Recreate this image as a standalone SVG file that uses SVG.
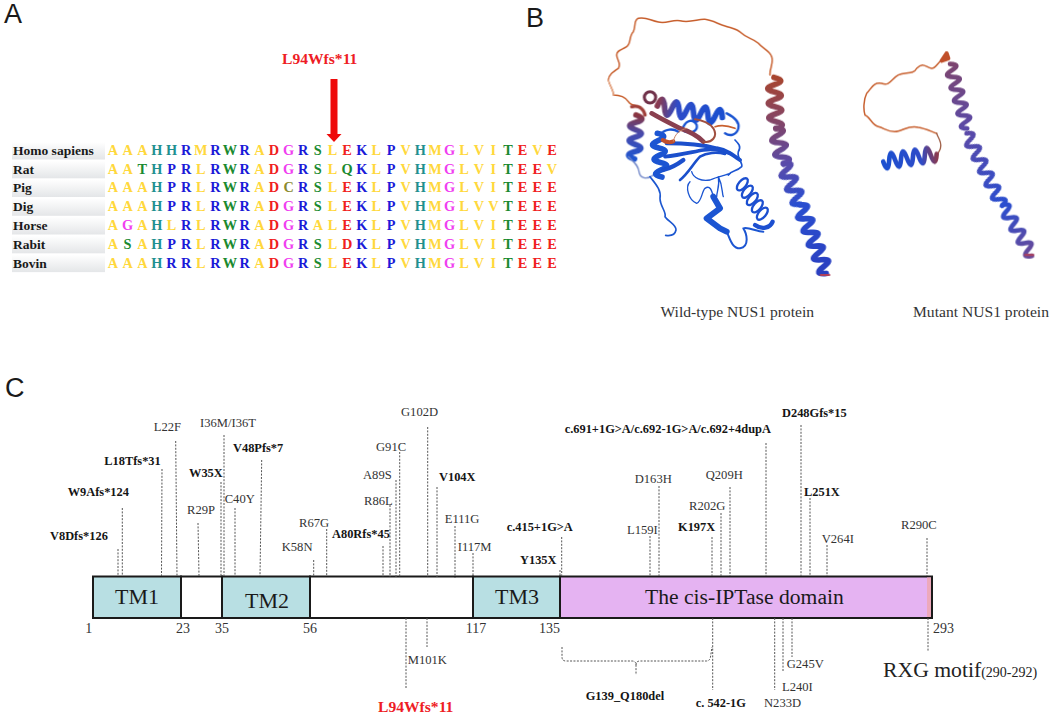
<svg xmlns="http://www.w3.org/2000/svg" width="1052" height="718" viewBox="0 0 1052 718">
<style>
text{font-family:"Liberation Serif","Times New Roman",serif}
.panel{font-family:"Liberation Sans",Arial,sans-serif;font-size:27px;fill:#1a1a1a}
.aa{font-size:14.3px;font-weight:bold;text-anchor:middle}
.y{fill:#ffd83c}.t{fill:#1f9090}.b{fill:#1a1ad8}.g{fill:#1a8a30}.r{fill:#f02020}.m{fill:#f040f0}.o{fill:#8a8a30}
.sp{font-size:13.5px;font-weight:bold;fill:#1a1a1a}
.lab{font-size:12.6px;fill:#333}
.mut{font-size:12.4px;font-weight:bold;fill:#151515}
.red{font-size:15.6px;font-weight:bold;fill:#ee1c25}
.num{font-size:14px;fill:#333}
.dom{font-size:22px;fill:#1a1a1a}
.dom2{font-size:21.6px;fill:#1a1a1a}
.cap{font-size:15.6px;fill:#333}
.rxg{font-size:21.7px;fill:#222}
.rxg2{font-size:14px}
.dash{fill:none;stroke:#555;stroke-width:1;stroke-dasharray:2 1.4}
.box{stroke:#1a1a1a;stroke-width:2}
.rib{fill:none;stroke-linecap:round;stroke-linejoin:round}
.loop{stroke:#c8602f;stroke-width:4.5}
.bl{stroke:#1b55d2;stroke-width:7}
.hx{stroke-width:17}
.hm{stroke-width:14}
</style>
<defs>
<filter id="soft" x="-5%" y="-5%" width="110%" height="110%"><feGaussianBlur stdDeviation="1.2"/></filter>
<linearGradient id="rowbg" x1="0" y1="0" x2="0" y2="1"><stop offset="0" stop-color="#ffffff"/><stop offset="1" stop-color="#e4e6e8"/></linearGradient>
<linearGradient id="gA" x1="0" y1="0" x2="1" y2="0"><stop offset="0" stop-color="#a8442f"/><stop offset="1" stop-color="#7d4570"/></linearGradient>
<linearGradient id="gB" x1="0" y1="0" x2="1" y2="0"><stop offset="0" stop-color="#7d4570"/><stop offset="1" stop-color="#5a4aa8"/></linearGradient>
<linearGradient id="gC" x1="0" y1="0" x2="1" y2="0"><stop offset="0" stop-color="#5a4aa8"/><stop offset="1" stop-color="#2a4fd0"/></linearGradient>
<linearGradient id="gD" x1="0" y1="0" x2="1" y2="0"><stop offset="0" stop-color="#2a4fd0"/><stop offset="1" stop-color="#2a3fc0"/></linearGradient>
<linearGradient id="gE" x1="0" y1="0" x2="1" y2="0"><stop offset="0" stop-color="#2a4fd0"/><stop offset="1" stop-color="#6a4a98"/></linearGradient>
<linearGradient id="gF" x1="0" y1="0" x2="1" y2="0"><stop offset="0" stop-color="#8a3a50"/><stop offset=".3" stop-color="#2f4cc8"/><stop offset="1" stop-color="#1a50d0"/></linearGradient>
<linearGradient id="gG" x1="0" y1="0" x2="1" y2="0"><stop offset="0" stop-color="#8a3540"/><stop offset=".4" stop-color="#4a4aaa"/><stop offset="1" stop-color="#1f55d0"/></linearGradient>
</defs>
<rect width="1052" height="718" fill="#ffffff"/>

<g id="panel-a">
<text class="panel" x="4" y="23">A</text>
<text class="red" x="282" y="64">L94Wfs*11</text>
<path id="arrow" d="M330.500 79H337.500V134H341.500L334 142L326.500 134H330.500Z" fill="#ee0a0a"/>
<g id="row-labels">
<rect x="12" y="142" width="93" height="17.5" fill="url(#rowbg)"/>
<rect x="12" y="160.800" width="93" height="17.500" fill="url(#rowbg)"/>
<rect x="12" y="179.500" width="93" height="17.500" fill="url(#rowbg)"/>
<rect x="12" y="198.300" width="93" height="17.500" fill="url(#rowbg)"/>
<rect x="12" y="217" width="93" height="17.500" fill="url(#rowbg)"/>
<rect x="12" y="235.800" width="93" height="17.500" fill="url(#rowbg)"/>
<rect x="12" y="254.600" width="93" height="17.500" fill="url(#rowbg)"/>
<text class="sp" x="13" y="155">Homo sapiens</text>
<text class="sp" x="13" y="173.700">Rat</text>
<text class="sp" x="13" y="192.400">Pig</text>
<text class="sp" x="13" y="211">Dig</text>
<text class="sp" x="13" y="230">Horse</text>
<text class="sp" x="13" y="248.700">Rabit</text>
<text class="sp" x="13" y="268">Bovin</text>
</g>
<g id="alignment">
<text class="aa" y="155" x="113 127.6 142.3 156.9 171.5 186.2 200.8 215.4 230 244.7 259.3 273.9 288.6 303.2 317.8 332.5 347.1 361.7 376.3 391 405.6 420.2 434.9 449.5 464.1 478.8 493.4 508 522.6 537.3 551.9"><tspan class="y">AAA</tspan><tspan class="t">HH</tspan><tspan class="b">R</tspan><tspan class="y">M</tspan><tspan class="b">R</tspan><tspan class="g">W</tspan><tspan class="b">R</tspan><tspan class="y">A</tspan><tspan class="r">D</tspan><tspan class="m">G</tspan><tspan class="b">R</tspan><tspan class="g">S</tspan><tspan class="y">L</tspan><tspan class="r">E</tspan><tspan class="b">K</tspan><tspan class="y">L</tspan><tspan class="b">P</tspan><tspan class="y">V</tspan><tspan class="t">H</tspan><tspan class="y">M</tspan><tspan class="m">G</tspan><tspan class="y">LVI</tspan><tspan class="g">T</tspan><tspan class="r">E</tspan><tspan class="y">V</tspan><tspan class="r">E</tspan></text>
<text class="aa" y="173.700" x="113 127.6 142.3 156.9 171.5 186.2 200.8 215.4 230 244.7 259.3 273.9 288.6 303.2 317.8 332.5 347.1 361.7 376.3 391 405.6 420.2 434.9 449.5 464.1 478.8 493.4 508 522.6 537.3 551.9"><tspan class="y">AA</tspan><tspan class="g">T</tspan><tspan class="t">H</tspan><tspan class="b">PR</tspan><tspan class="y">L</tspan><tspan class="b">R</tspan><tspan class="g">W</tspan><tspan class="b">R</tspan><tspan class="y">A</tspan><tspan class="r">D</tspan><tspan class="m">G</tspan><tspan class="b">R</tspan><tspan class="g">S</tspan><tspan class="y">L</tspan><tspan class="g">Q</tspan><tspan class="b">K</tspan><tspan class="y">L</tspan><tspan class="b">P</tspan><tspan class="y">V</tspan><tspan class="t">H</tspan><tspan class="y">M</tspan><tspan class="m">G</tspan><tspan class="y">LVI</tspan><tspan class="g">T</tspan><tspan class="r">EE</tspan><tspan class="y">V</tspan></text>
<text class="aa" y="192.400" x="113 127.6 142.3 156.9 171.5 186.2 200.8 215.4 230 244.7 259.3 273.9 288.6 303.2 317.8 332.5 347.1 361.7 376.3 391 405.6 420.2 434.9 449.5 464.1 478.8 493.4 508 522.6 537.3 551.9"><tspan class="y">AAA</tspan><tspan class="t">H</tspan><tspan class="b">PR</tspan><tspan class="y">L</tspan><tspan class="b">R</tspan><tspan class="g">W</tspan><tspan class="b">R</tspan><tspan class="y">A</tspan><tspan class="r">D</tspan><tspan class="o">C</tspan><tspan class="b">R</tspan><tspan class="g">S</tspan><tspan class="y">L</tspan><tspan class="r">E</tspan><tspan class="b">K</tspan><tspan class="y">L</tspan><tspan class="b">P</tspan><tspan class="y">V</tspan><tspan class="t">H</tspan><tspan class="y">M</tspan><tspan class="m">G</tspan><tspan class="y">LVI</tspan><tspan class="g">T</tspan><tspan class="r">EEE</tspan></text>
<text class="aa" y="211" x="113 127.6 142.3 156.9 171.5 186.2 200.8 215.4 230 244.7 259.3 273.9 288.6 303.2 317.8 332.5 347.1 361.7 376.3 391 405.6 420.2 434.9 449.5 464.1 478.8 493.4 508 522.6 537.3 551.9"><tspan class="y">AAA</tspan><tspan class="t">H</tspan><tspan class="b">PR</tspan><tspan class="y">L</tspan><tspan class="b">R</tspan><tspan class="g">W</tspan><tspan class="b">R</tspan><tspan class="y">A</tspan><tspan class="r">D</tspan><tspan class="m">G</tspan><tspan class="b">R</tspan><tspan class="g">S</tspan><tspan class="y">L</tspan><tspan class="r">E</tspan><tspan class="b">K</tspan><tspan class="y">L</tspan><tspan class="b">P</tspan><tspan class="y">V</tspan><tspan class="t">H</tspan><tspan class="y">M</tspan><tspan class="m">G</tspan><tspan class="y">LVV</tspan><tspan class="g">T</tspan><tspan class="r">EEE</tspan></text>
<text class="aa" y="230" x="113 127.6 142.3 156.9 171.5 186.2 200.8 215.4 230 244.7 259.3 273.9 288.6 303.2 317.8 332.5 347.1 361.7 376.3 391 405.6 420.2 434.9 449.5 464.1 478.8 493.4 508 522.6 537.3 551.9"><tspan class="y">A</tspan><tspan class="m">G</tspan><tspan class="y">A</tspan><tspan class="t">H</tspan><tspan class="y">L</tspan><tspan class="b">R</tspan><tspan class="y">L</tspan><tspan class="b">R</tspan><tspan class="g">W</tspan><tspan class="b">R</tspan><tspan class="y">A</tspan><tspan class="r">D</tspan><tspan class="m">G</tspan><tspan class="b">R</tspan><tspan class="y">AL</tspan><tspan class="r">E</tspan><tspan class="b">K</tspan><tspan class="y">L</tspan><tspan class="b">P</tspan><tspan class="y">V</tspan><tspan class="t">H</tspan><tspan class="y">M</tspan><tspan class="m">G</tspan><tspan class="y">LVI</tspan><tspan class="g">T</tspan><tspan class="r">EEE</tspan></text>
<text class="aa" y="248.700" x="113 127.6 142.3 156.9 171.5 186.2 200.8 215.4 230 244.7 259.3 273.9 288.6 303.2 317.8 332.5 347.1 361.7 376.3 391 405.6 420.2 434.9 449.5 464.1 478.8 493.4 508 522.6 537.3 551.9"><tspan class="y">A</tspan><tspan class="g">S</tspan><tspan class="y">A</tspan><tspan class="t">H</tspan><tspan class="b">PR</tspan><tspan class="y">L</tspan><tspan class="b">R</tspan><tspan class="g">W</tspan><tspan class="b">R</tspan><tspan class="y">A</tspan><tspan class="r">D</tspan><tspan class="m">G</tspan><tspan class="b">R</tspan><tspan class="g">S</tspan><tspan class="y">L</tspan><tspan class="r">D</tspan><tspan class="b">K</tspan><tspan class="y">L</tspan><tspan class="b">P</tspan><tspan class="y">V</tspan><tspan class="t">H</tspan><tspan class="y">M</tspan><tspan class="m">G</tspan><tspan class="y">LVI</tspan><tspan class="g">T</tspan><tspan class="r">EEE</tspan></text>
<text class="aa" y="268" x="113 127.6 142.3 156.9 171.5 186.2 200.8 215.4 230 244.7 259.3 273.9 288.6 303.2 317.8 332.5 347.1 361.7 376.3 391 405.6 420.2 434.9 449.5 464.1 478.8 493.4 508 522.6 537.3 551.9"><tspan class="y">AAA</tspan><tspan class="t">H</tspan><tspan class="b">RR</tspan><tspan class="y">L</tspan><tspan class="b">R</tspan><tspan class="g">W</tspan><tspan class="b">R</tspan><tspan class="y">A</tspan><tspan class="r">D</tspan><tspan class="m">G</tspan><tspan class="b">R</tspan><tspan class="g">S</tspan><tspan class="y">L</tspan><tspan class="r">E</tspan><tspan class="b">K</tspan><tspan class="y">L</tspan><tspan class="b">P</tspan><tspan class="y">V</tspan><tspan class="t">H</tspan><tspan class="y">M</tspan><tspan class="m">G</tspan><tspan class="y">LVI</tspan><tspan class="g">T</tspan><tspan class="r">EEE</tspan></text>
</g>
</g>

<g id="panel-b">
<text class="panel" x="526" y="27">B</text>
<text class="cap" x="660.500" y="317">Wild-type NUS1 protein</text>
<text class="cap" x="913" y="317">Mutant NUS1 protein</text>
<g id="wild-type" transform="translate(570 0) scale(.33333)" filter="url(#soft)">
<path class="rib loop" d="M600 225C598 205 612 190 605 170C598 150 580 148 565 130C550 115 530 115 515 100C500 85 485 85 465 78C445 72 425 60 405 58C385 56 360 70 330 62C305 58 290 72 265 66C240 62 230 50 205 55C190 60 198 80 190 95C175 110 185 130 170 140C155 150 140 150 140 165C140 180 155 190 145 205C130 215 115 225 115 240C118 258 132 270 130 285C150 285 165 290 175 305C180 315 195 318 210 320"/>
<path class="rib" d="M115 240C118 258 132 270 130 285" stroke="#e8b090" stroke-width="4"/>
<path class="rib hx" transform="translate(612 232) rotate(88)" d="M0 0q11 -40 22 0t22 0t22 0t22 0t22 0t22 0t22 0" stroke="url(#gA)"/>
<path class="rib hx" transform="translate(618 385) rotate(78)" d="M0 0q11 -40 22 0t22 0t22 0t22 0t22 0" stroke="url(#gB)"/>
<path class="rib hx" transform="translate(640 490) rotate(68)" d="M0 0q11 -40 22 0t22 0t22 0t22 0t22 0t22 0" stroke="url(#gC)"/>
<path class="rib hx" transform="translate(690 615) rotate(69)" d="M0 0q11 -40 22 0t22 0t22 0t22 0t22 0t22 0t22 0t22 0t22 0t22 0" stroke="url(#gD)"/>
<path class="rib" d="M752 825H778" stroke="#b0405a" stroke-width="6"/>
<circle cx="240" cy="292" r="17" fill="none" stroke="#70304a" stroke-width="9"/>
<path class="rib hx" transform="translate(198 345) rotate(92)" d="M0 0q11 -36 22 0t22 0t22 0t22 0t22 0t22 0" stroke="url(#gG)"/>
<path class="rib" d="M185 320C205 315 220 325 225 345" stroke="#a0403a" stroke-width="10"/>
<path class="rib" d="M175 470C190 485 205 495 207 515C210 535 230 540 250 525" stroke="#6f86c8" stroke-width="4"/>
<path class="rib hx" transform="translate(262 318) rotate(10)" d="M0 0q11 -44 22 0t22 0t22 0t22 0t22 0t22 0t22 0t22 0t22 0" stroke="url(#gF)"/>
<path class="rib bl" d="M470 340C490 350 510 365 505 385C500 405 480 410 465 400"/>
<path class="rib bl" d="M340 380C350 360 370 355 380 375C385 395 360 400 345 395M270 405C285 385 310 385 325 395"/>
<path class="rib hx" transform="translate(262 400) rotate(84)" d="M0 0q11 -36 22 0t22 0t22 0t22 0t22 0t22 0" stroke="#1b55d2"/>
<path class="rib" d="M290 430C340 430 400 435 440 445C470 450 490 465 510 480" stroke="#1a50cc" stroke-width="12"/>
<path class="rib" d="M285 470C330 465 370 455 400 450C430 445 455 450 480 460" stroke="#1a50cc" stroke-width="11"/>
<path class="rib" d="M330 540C355 520 370 490 390 470C410 458 440 455 465 462" stroke="#1a50cc" stroke-width="8"/>
<path class="rib" d="M280 510C300 505 320 495 340 480" stroke="#1a50cc" stroke-width="13"/>
<path class="rib bl" style="stroke-width:5" d="M495 420C505 430 515 440 505 455C500 475 520 490 515 500C500 515 485 510 475 525"/>
<path class="rib bl" style="stroke-width:4" d="M365 515C370 535 395 545 420 540C440 530 470 525 480 520M360 545C345 560 355 600 380 610C395 605 395 575 405 565C420 555 425 570 430 590M445 530C460 560 455 580 460 590M445 530C450 560 440 575 440 590"/>
<path class="rib" d="M240 530C255 550 275 570 270 595C270 620 290 635 285 650C295 665 320 675 318 690C315 705 300 708 287 706" stroke="#1f58d0" stroke-width="5"/>
<path class="rib" d="M430 590L450 625L410 655L450 685L470 695" stroke="#1b55d2" stroke-width="18"/>
<path class="rib" d="M470 695C480 715 485 745 510 745C540 740 530 700 520 685C535 680 560 695 580 695" stroke="#1b55d2" stroke-width="6"/>
<g fill="none" stroke="#1b4fd0" stroke-width="7">
<ellipse cx="517" cy="553" rx="11" ry="22" transform="rotate(40 517 553)"/>
<ellipse cx="532" cy="575" rx="11" ry="22" transform="rotate(40 532 575)"/>
<ellipse cx="547" cy="597" rx="11" ry="22" transform="rotate(40 547 597)"/>
<ellipse cx="562" cy="619" rx="11" ry="22" transform="rotate(40 562 619)"/>
<ellipse cx="577" cy="641" rx="11" ry="22" transform="rotate(40 577 641)"/>
</g>
<path class="rib" d="M555 675C575 690 600 685 608 665" stroke="#1b4fd0" stroke-width="13"/>
<path class="rib" d="M245 340C270 355 300 370 330 385C360 395 385 410 400 425" stroke="#8a4050" stroke-width="14"/>
<path class="rib" d="M400 425C425 430 445 410 430 385C420 370 395 360 375 358" stroke="#a0503f" stroke-width="6"/>
<path class="rib" d="M435 380C450 375 470 375 495 385" stroke="#c8602f" stroke-width="5"/>
<path class="rib" d="M278 420C290 428 300 428 310 424" stroke="#c0502f" stroke-width="12"/>
<path class="rib" d="M310 424C315 400 330 390 350 385" stroke="#c88060" stroke-width="3"/>
</g>
<g id="mutant" transform="translate(570 0) scale(.33333)" filter="url(#soft)">
<path class="rib loop" d="M1125 175C1105 180 1100 205 1085 205C1065 200 1060 185 1040 205C1030 225 1005 215 985 225C965 235 960 260 935 250C910 245 905 265 890 280C880 300 880 330 885 345C900 350 905 375 925 380C945 385 960 400 985 393C1005 388 1020 375 1045 382C1065 385 1085 395 1100 400"/>
<path class="rib" d="M1100 400C1105 415 1115 425 1112 440C1112 450 1108 455 1100 465" stroke="#a06048" stroke-width="4"/>
<path class="rib" d="M1115 182L1130 160L1135 175Z" stroke="#c0502a" stroke-width="12"/>
<path class="rib hx hm" transform="translate(1140 192) rotate(75)" d="M0 0q10 -34 20 0t20 0t20 0t20 0t20 0t20 0t20 0t20 0t20 0t20 0" stroke="url(#gB)"/>
<path class="rib hx hm" transform="translate(1190 400) rotate(64)" d="M0 0q11 -34 22 0t22 0t22 0t22 0t22 0t22 0t22 0t22 0t22 0t22 0t22 0" stroke="url(#gC)"/>
<path class="rib hx hm" transform="translate(1298 615) rotate(60)" d="M0 0q11 -34 22 0t22 0t22 0t22 0t22 0t22 0t22 0t22 0" stroke="url(#gE)"/>
<path class="rib" d="M1365 765H1390" stroke="#b0405a" stroke-width="6"/>
<path class="rib hm" transform="translate(1100 462) rotate(172)" d="M0 0q9 -44 18 0t18 0t18 0t18 0t18 0t18 0t18 0t18 0t18 0" stroke="url(#gF)"/>
</g>
</g>

<g id="panel-c">
<text class="panel" x="5" y="397">C</text>
<g id="protein-bar">
<g id="TM1"><rect class="box" x="93" y="576.500" width="88" height="41.500" fill="#b8dfe3"/><text class="dom" x="115" y="604">TM1</text></g>
<g id="linker-1"><rect class="box" x="181" y="576.500" width="41" height="41.500" fill="#ffffff"/></g>
<g id="TM2"><rect class="box" x="222" y="576.500" width="88" height="41.500" fill="#b8dfe3"/><text class="dom" x="245" y="608">TM2</text></g>
<g id="linker-2"><rect class="box" x="310" y="576.500" width="163" height="41.500" fill="#ffffff"/></g>
<g id="TM3"><rect class="box" x="473" y="576.500" width="87" height="41.500" fill="#b8dfe3"/><text class="dom" x="495" y="604">TM3</text></g>
<g id="cis-IPTase"><rect class="box" x="560" y="576.500" width="372" height="41.500" fill="#e5b3f2"/><text class="dom2" x="645" y="604">The cis-IPTase domain</text></g>
<g id="RXG"><rect x="927" y="577.500" width="4" height="39.500" fill="#eda9bb"/></g>
</g>
<g id="connectors">
<path class="dash" d="M118 549V576M122.300 508V576M162 469L161.500 576M175.700 441L177 576M198 523L199 576M221 482V576M224 435V576M235 508V576M261.700 460L260 576M313.700 560V576M326.700 529V576M383 546V577M390 505V577M396 480V577M399.700 452V577M427.700 427V577M437 487V577M455 526V578M473 553V576M561.700 537V576M560 570V576M650 536V576M659 486V576M712 537V576M721 513V576M730 487V576M766 443V576M801 425V576M810 498V576M827 545V576M927 538V576"/>
<path class="dash" d="M406 618V689M427 618V647M712.700 618V690M774.700 618V690M783 618V672M792 618V657M928 618V652"/>
<path class="dash" d="M562 647V657Q562 661 566 661H632Q636 661 636 665V675M636 665Q636 661 640 661H706Q710 661 710.500 657L712 647"/>
</g>
<g id="positions">
<text class="num" x="85.300" y="633">1</text>
<text class="num" x="176" y="633">23</text>
<text class="num" x="215" y="633">35</text>
<text class="num" x="303" y="633">56</text>
<text class="num" x="465.700" y="633">117</text>
<text class="num" x="539" y="633">135</text>
<text class="num" x="933" y="633">293</text>
</g>
<g id="variants">
<text class="mut" x="50" y="540">V8Dfs*126</text>
<text class="mut" x="67.700" y="495.700">W9Afs*124</text>
<text class="mut" x="104.300" y="465">L18Tfs*31</text>
<text class="lab" x="153.700" y="430.700">L22F</text>
<text class="lab" x="200" y="427">I36M/I36T</text>
<text class="mut" x="233" y="451.700">V48Pfs*7</text>
<text class="mut" x="189" y="477">W35X</text>
<text class="lab" x="187" y="514">R29P</text>
<text class="lab" x="224.700" y="503">C40Y</text>
<text class="lab" x="281.700" y="551">K58N</text>
<text class="lab" x="299" y="527">R67G</text>
<text class="mut" x="332" y="538">A80Rfs*45</text>
<text class="lab" x="364" y="504.700">R86L</text>
<text class="lab" x="363" y="478.700">A89S</text>
<text class="lab" x="376" y="451">G91C</text>
<text class="lab" x="401" y="415.700">G102D</text>
<text class="mut" x="439" y="481">V104X</text>
<text class="lab" x="444.700" y="523">E111G</text>
<text class="lab" x="457.700" y="551">I117M</text>
<text class="mut" x="506.700" y="531">c.415+1G&gt;A</text>
<text class="mut" x="520" y="564">Y135X</text>
<text class="lab" x="407.700" y="664">M101K</text>
<text class="red" x="378" y="711.700">L94Wfs*11</text>
<text class="mut" x="564.700" y="433">c.691+1G&gt;A/c.692-1G&gt;A/c.692+4dupA</text>
<text class="mut" x="782" y="417">D248Gfs*15</text>
<text class="lab" x="634.700" y="483">D163H</text>
<text class="lab" x="705.700" y="478.700">Q209H</text>
<text class="mut" x="804" y="495.700">L251X</text>
<text class="lab" x="689" y="509.700">R202G</text>
<text class="lab" x="627" y="533.700">L159I</text>
<text class="mut" x="678" y="531">K197X</text>
<text class="lab" x="821.700" y="543">V264I</text>
<text class="lab" x="901" y="529">R290C</text>
<text class="lab" x="786.700" y="667.700">G245V</text>
<text class="lab" x="782" y="691">L240I</text>
<text class="lab" x="764" y="707">N233D</text>
<text class="mut" x="585.700" y="700">G139_Q180del</text>
<text class="mut" x="695.700" y="706.700">c. 542-1G</text>
<text class="rxg" x="883" y="677">RXG motif<tspan class="rxg2">(290-292)</tspan></text>
</g>
</g>
</svg>
